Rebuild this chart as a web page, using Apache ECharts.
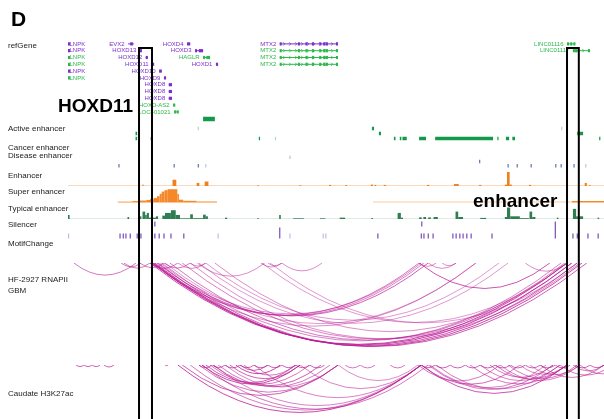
<!DOCTYPE html>
<html>
<head>
<meta charset="utf-8">
<script src="https://cdn.jsdelivr.net/npm/echarts@6/dist/echarts.min.js"></script>
<style>
html,body{margin:0;padding:0;background:#fff;}
#chart{width:604px;height:419px;}
</style>
</head>
<body>
<div id="chart"></div>
<script>
// browser window, kb from left edge of view
var viewStart = 0, viewEnd = 1000;

// refGene track
var geneNames = ['LNPK','LNPK','LNPK','LNPK','LNPK','LNPK','EVX2','HOXD13','HOXD12','HOXD11','HOXD10','HOXD9','HOXD8','HOXD8','HOXD8','HOXD-AS2','LOC401021','HOXD4','HOXD3','HAGLR','HOXD1','MTX2','MTX2','MTX2','MTX2','LINC01116','LINC01117'];
var geneStart = [0,0,0,0,0,0,112,134,145,157,170,179,188,188,188,196,198,222,237,252,276,395,395,395,395,931,942];
var geneEnd   = [1,1,1,1,1,1,123,138,149,160,175,183,194,194,194,200,205,228,252,265,280,503,503,503,503,946,974];
var geneRow   = [0,1,2,3,4,5,0,1,2,3,4,5,6,7,8,9,10,0,1,2,3,0,1,2,3,0,1];
var geneCoding = [1,1,0,0,1,0,1,1,1,1,1,1,1,1,1,0,0,1,1,0,1,1,0,0,0,0,0];
var mtx2Exons = [[395,398],[429,431],[443,445],[455,457],[469,471],[476,479],[481,485],[500,503]];
var geneExons = {6: [[116,121]], 16: [[198,200],[203,205]], 18: [[237,239],[244,252]], 19: [[252,256],[258,265]],
  21: mtx2Exons, 22: mtx2Exons, 23: mtx2Exons, 24: mtx2Exons,
  25: [[931,934],[937,940],[943,946]], 26: [[942,944],[946,950],[970,974]]};

// Active enhancer: start, end, row, strong(1)/weak(0)
var activeMarks = [[252,274,0,1],[126,129,3,1],[126,129,4,1],[153,154,4,0],[242,243,2,0],[356,358,4,1],[386,387,4,0],
  [567,571,2,1],[580,584,3,1],[608,611,4,1],[619,622,4,1],[624,632,4,1],[655,668,4,1],[685,793,4,1],[801,803,4,1],
  [817,823,4,1],[829,834,4,1],[920,921,2,0],[950,961,3,1],[991,993,4,1]];

// Cancer / Disease enhancer: pos, row, strong
var cancerMarks = [[414,0,0],[768,1,1],[95,2,1],[198,2,1],[243,2,1],[257,2,0],[821,2,1],[838,2,1],[864,2,1],[910,2,1],[920,2,1],[944,2,1],[966,2,0]];

// signal bins: start, end, value, strong
var enhancerBins = [[0,1000,0.05,0],[139,141,0.1,1],[195,202,0.45,1],[240,245,0.22,1],[255,262,0.32,1],[353,356,0.06,1],[432,435,0.06,1],
  [487,491,0.08,1],[517,521,0.06,1],[565,569,0.1,1],[572,575,0.08,1],[589,593,0.08,1],[670,674,0.08,1],[720,729,0.14,1],
  [767,771,0.08,1],[815,819,0.1,1],[819,824,1.0,1],[824,828,0.1,1],[860,864,0.08,1],[929,933,0.08,1],[964,968,0.22,1],[972,975,0.06,1]];
var superBins = [[93,120,0.06,1],[120,134,0.1,1],[134,146,0.14,1],[146,153,0.18,1],[153,160,0.24,1],[160,166,0.32,1],
  [166,171,0.45,1],[171,175,0.62,1],[175,180,0.78,1],[180,186,0.88,1],[186,204,0.95,1],[204,207,0.6,1],[207,215,0.2,1],
  [215,240,0.12,1],[240,278,0.07,1],[569,940,0.07,0],[940,1000,0.1,1]];
var typicalBins = [[0,1000,0.04,0],[0,3,0.3,1],[111,114,0.15,1],[131,137,0.2,1],[139,144,0.55,1],[144,147,0.3,1],[147,151,0.45,1],
  [151,164,0.1,1],[164,168,0.2,1],[176,181,0.25,1],[181,192,0.45,1],[192,201,0.65,1],[201,209,0.3,1],[209,228,0.05,1],
  [228,233,0.35,1],[233,252,0.06,1],[252,257,0.32,1],[257,261,0.2,1],[293,297,0.1,1],[353,356,0.06,1],[394,397,0.3,1],
  [420,440,0.05,1],[470,480,0.05,1],[507,517,0.1,1],[566,569,0.08,1],[615,621,0.45,1],[621,625,0.1,1],[655,660,0.12,1],
  [663,668,0.15,1],[672,677,0.12,1],[682,690,0.15,1],[723,728,0.55,1],[728,737,0.15,1],[769,780,0.08,1],[815,819,0.15,1],
  [819,825,0.85,1],[825,843,0.2,1],[843,860,0.06,1],[861,866,0.55,1],[866,872,0.15,1],[912,915,0.1,1],[942,948,0.75,1],
  [948,961,0.2,1],[988,991,0.1,1]];

// Silencer: pos, row, rows spanned, strong
var silencerMarks = [[162,0,1,1],[660,0,1,1],[909,0,3,1],[395,1,2,1],
  [1,2,1,0],[97,2,1,1],[103,2,1,1],[108,2,1,1],[116,2,1,1],[129,2,1,1],[136,2,1,1],[162,2,1,1],[170,2,1,1],[179,2,1,1],
  [192,2,1,1],[216,2,1,1],[280,2,1,0],[414,2,1,0],[476,2,1,0],[481,2,1,0],[578,2,1,1],[659,2,1,1],[664,2,1,1],[672,2,1,1],
  [681,2,1,1],[718,2,1,1],[724,2,1,1],[731,2,1,1],[737,2,1,1],[744,2,1,1],[752,2,1,1],[791,2,1,1],[942,2,1,1],[950,2,1,1],
  [970,2,1,1],[989,2,1,1]];

// chromatin interaction arcs: start, end, opacity
var hfArcs = [[11,127,0.6],[99,136,0.6],[104,153,0.6],[134,179,0.6],[153,205,0.6],[179,228,0.6],[205,257,0.5],[228,257,0.5],
  [360,399,0.5],[373,399,0.5],[399,474,0.5],[655,687,0.5],[672,724,0.5],[698,724,0.5],[853,931,0.5],[241,367,0.5],
  [655,899,0.75],[157,655,0.6],[160,664,0.55],[166,672,0.7],[172,659,0.5],[157,761,0.5],[181,761,0.45],[244,821,0.45],
  [257,804,0.45],[362,931,0.45],[377,950,0.45],
  [153,931,0.8],[157,940,0.85],[159,950,0.75],[162,959,0.8],[168,968,0.7],[175,920,0.55],[190,927,0.6],[213,940,0.55],
  [228,955,0.5],[274,931,0.5]];
var caudateArcs = [[15,30,0.7],[30,45,0.7],[45,60,0.7],[67,86,0.7],[181,187,0.7],
  [205,659,0.8],[228,659,0.6],[250,672,0.6],[271,659,0.55],[347,659,0.55],[213,504,0.7],[244,504,0.6],[250,433,0.8],
  [257,425,0.7],[265,451,0.6],[271,472,0.7],[280,489,0.6],[293,504,0.55],[302,433,0.7],[313,396,0.8],[321,373,0.7],
  [328,425,0.6],[504,653,0.5],[433,659,0.55],
  [659,931,0.75],[672,905,0.6],[653,806,0.6],[659,843,0.65],[675,892,0.55],[687,918,0.6],[750,931,0.6],[769,918,0.55],
  [787,905,0.6],[797,931,0.6],[806,955,0.55],[821,950,0.6],[843,931,0.55],[862,955,0.55],[881,1000,0.6],[918,1015,0.6],
  [942,1000,0.6],[955,1039,0.6],
  [244,269,0.7],[269,293,0.7],[293,321,0.7],[321,347,0.7],[347,373,0.7],[373,399,0.7],[399,425,0.7],[425,451,0.7],
  [451,479,0.7],[517,545,0.6],[545,573,0.6],[601,629,0.6],[659,685,0.7],[685,713,0.7],[713,741,0.7],[741,769,0.7],
  [769,797,0.7],[797,825,0.7],[825,853,0.7],[853,881,0.7],[881,909,0.7],[909,937,0.7],[946,974,0.7],[974,1000,0.7]];

// highlighted regions
var boxStart = [132.5, 931];
var boxEnd = [156.7, 953];

var trackLabels = ['refGene','Active enhancer','Cancer enhancer','Disease enhancer','Enhancer','Super enhancer','Typical enhancer','Silencer','MotifChange','HF-2927 RNAPII','GBM','Caudate H3K27ac'];
var trackLabelY = [46.5,129.5,149,157,176.5,192.5,210,226,245,280.5,291.5,395];

var FONT = '"Liberation Sans", Arial, sans-serif';
var purple = '#7b2fc9', green = '#2cb84a';
var arcRatio = 0.195;           // arc depth / arc width
var pxPerKb = 536 / (viewEnd - viewStart);

var tracks = [
  {top: 40.5, height: 81.6, max: 12, inverse: true},   // 0 genes
  {top: 116, height: 25, max: 5, inverse: true},       // 1 active
  {top: 155, height: 13, max: 3, inverse: true},       // 2 cancer/disease
  {top: 172, height: 14, max: 1, inverse: false},      // 3 enhancer
  {top: 188.5, height: 14, max: 1, inverse: false},    // 4 super
  {top: 205.5, height: 13.5, max: 1, inverse: false},  // 5 typical
  {top: 221, height: 18, max: 3, inverse: true},       // 6 silencer
  {top: 263, height: 100, max: 0, inverse: true},      // 7 HF arcs
  {top: 365, height: 54, max: 0, inverse: true},       // 8 caudate arcs
  {top: 48, height: 371, max: 1, inverse: true}        // 9 boxes
];
tracks[7].max = tracks[7].height / (arcRatio * pxPerKb);
tracks[8].max = tracks[8].height / (arcRatio * pxPerKb);

function geneItem(params, api) {
  var i = params.dataIndex;
  var s = api.value(0), e = api.value(1), row = api.value(2);
  var color = geneCoding[i] ? purple : green;
  var a = api.coord([s, row + 0.5]), b = api.coord([e, row + 0.5]);
  var y = a[1];
  var kids = [];
  kids.push({type: 'line', shape: {x1: a[0], y1: y, x2: b[0], y2: y}, style: {stroke: color, lineWidth: 1}});
  var exons = geneExons[i] || [[s, e]];
  for (var k = 0; k < exons.length; k++) {
    var p = api.coord([exons[k][0], row]), q = api.coord([exons[k][1], row]);
    kids.push({type: 'rect', shape: {x: p[0], y: y - 1.6, width: Math.max(q[0] - p[0], 2), height: 3.2}, style: {fill: color}});
  }
  if (b[0] - a[0] > 12) {
    for (var x = a[0] + 5; x < b[0] - 2; x += 6) {
      kids.push({type: 'polyline', shape: {points: [[x - 1.5, y - 1.6], [x, y], [x - 1.5, y + 1.6]]},
        style: {stroke: color, fill: 'none', lineWidth: 0.8}});
    }
  }
  var right = s <= viewStart;
  kids.push({type: 'text', style: {text: geneNames[i], x: right ? b[0] + 1 : a[0] - 3.5, y: y, fill: color,
    font: '6px ' + FONT, align: right ? 'left' : 'right', textAlign: right ? 'left' : 'right',
    verticalAlign: 'middle', textVerticalAlign: 'middle'}});
  return {type: 'group', children: kids};
}

function markItem(strong, weak) {
  return function (params, api) {
    var s = api.value(0), e = api.value(1), row = api.value(2);
    var p = api.coord([s, row + 0.15]), q = api.coord([e, row + 0.85]);
    var h = q[1] - p[1];
    if (row === 0 && params.seriesIndex === 1) { h += 1; }
    return {type: 'rect', shape: {x: p[0], y: p[1], width: Math.max(q[0] - p[0], 1.2), height: h},
      style: {fill: api.value(3) ? strong : weak}};
  };
}

function tickItem(strong, weak, spanDim) {
  return function (params, api) {
    var pos = api.value(0), row = api.value(1);
    var span = spanDim ? api.value(2) : 1;
    var shade = api.value(spanDim ? 3 : 2);
    var p = api.coord([pos, row + 0.1]), q = api.coord([pos, row + span - 0.1]);
    return {type: 'rect', shape: {x: p[0] - 0.5, y: p[1], width: 1.1, height: q[1] - p[1]},
      style: {fill: shade ? strong : weak}};
  };
}

function binItem(strong, weak) {
  return function (params, api) {
    var p0 = api.coord([api.value(0), 0]);
    var p1 = api.coord([api.value(1), api.value(2)]);
    return {type: 'rect', shape: {x: p0[0], y: p1[1], width: Math.max(p1[0] - p0[0], 1), height: p0[1] - p1[1]},
      style: {fill: api.value(3) ? strong : weak}};
  };
}

function arcItem(params, api) {
  var s = api.value(0), e = api.value(1);
  var p1 = api.coord([s, 0]), p2 = api.coord([e, 0]);
  var pb = api.coord([(s + e) / 2, e - s]);
  return {type: 'bezierCurve',
    shape: {x1: p1[0], y1: p1[1], x2: p2[0], y2: p2[1], cpx1: pb[0], cpy1: p1[1] + 2 * (pb[1] - p1[1])},
    style: {fill: 'none', stroke: 'rgba(188, 28, 150, ' + api.value(2) + ')', lineWidth: 1}};
}

function boxItem(params, api) {
  var p = api.coord([api.value(0), 0]), q = api.coord([api.value(1), 1.05]);
  return {type: 'rect', shape: {x: p[0], y: p[1], width: q[0] - p[0], height: q[1] - p[1]},
    style: {fill: 'none', stroke: '#000', lineWidth: 2}};
}

var geneData = [];
for (var i = 0; i < geneNames.length; i++) geneData.push([geneStart[i], geneEnd[i], geneRow[i]]);
var boxData = [];
for (var j = 0; j < boxStart.length; j++) boxData.push([boxStart[j], boxEnd[j]]);

var graphics = trackLabels.map(function (t, k) {
  return {type: 'text', left: 8, top: trackLabelY[k] - 5, silent: true,
    style: {text: t, font: '8px ' + FONT, fill: '#222'}};
});
graphics.push({type: 'text', left: 11, top: 10, style: {text: 'D', font: 'bold 21px ' + FONT, fill: '#000'}});
graphics.push({type: 'text', left: 58, top: 97, z: 100, style: {text: 'HOXD11', font: 'bold 19px ' + FONT, fill: '#000'}});
graphics.push({type: 'text', left: 473, top: 192, z: 100, style: {text: 'enhancer', font: 'bold 19px ' + FONT, fill: '#000'}});

var option = {
  animation: false,
  backgroundColor: '#fff',
  grid: tracks.map(function (t) { return {left: 68, right: 0, top: t.top, height: t.height}; }),
  xAxis: tracks.map(function (t, k) { return {gridIndex: k, type: 'value', min: viewStart, max: viewEnd, show: false}; }),
  yAxis: tracks.map(function (t, k) { return {gridIndex: k, type: 'value', min: 0, max: t.max, inverse: t.inverse, show: false}; }),
  graphic: graphics,
  series: [
    {type: 'custom', xAxisIndex: 0, yAxisIndex: 0, renderItem: geneItem, data: geneData},
    {type: 'custom', xAxisIndex: 1, yAxisIndex: 1, renderItem: markItem('#129a48', '#a9dcbc'), data: activeMarks},
    {type: 'custom', xAxisIndex: 2, yAxisIndex: 2, renderItem: tickItem('#4a68a8', '#b3c0de', false), data: cancerMarks},
    {type: 'custom', xAxisIndex: 3, yAxisIndex: 3, renderItem: binItem('#f07f1f', '#f9cda6'), data: enhancerBins},
    {type: 'custom', xAxisIndex: 4, yAxisIndex: 4, renderItem: binItem('#f5892a', '#f9cda6'), data: superBins},
    {type: 'custom', xAxisIndex: 5, yAxisIndex: 5, renderItem: binItem('#2f7d52', '#bcd8c6'), data: typicalBins},
    {type: 'custom', xAxisIndex: 6, yAxisIndex: 6, renderItem: tickItem('#6a3ab2', '#c4b2e2', true), data: silencerMarks},
    {type: 'custom', xAxisIndex: 7, yAxisIndex: 7, clip: true, renderItem: arcItem, data: hfArcs},
    {type: 'custom', xAxisIndex: 8, yAxisIndex: 8, clip: true, renderItem: arcItem, data: caudateArcs},
    {type: 'custom', xAxisIndex: 9, yAxisIndex: 9, z: 50, renderItem: boxItem, data: boxData}
  ]
};

var chart = echarts.init(document.getElementById('chart'));
chart.setOption(option);
</script>
</body>
</html>
